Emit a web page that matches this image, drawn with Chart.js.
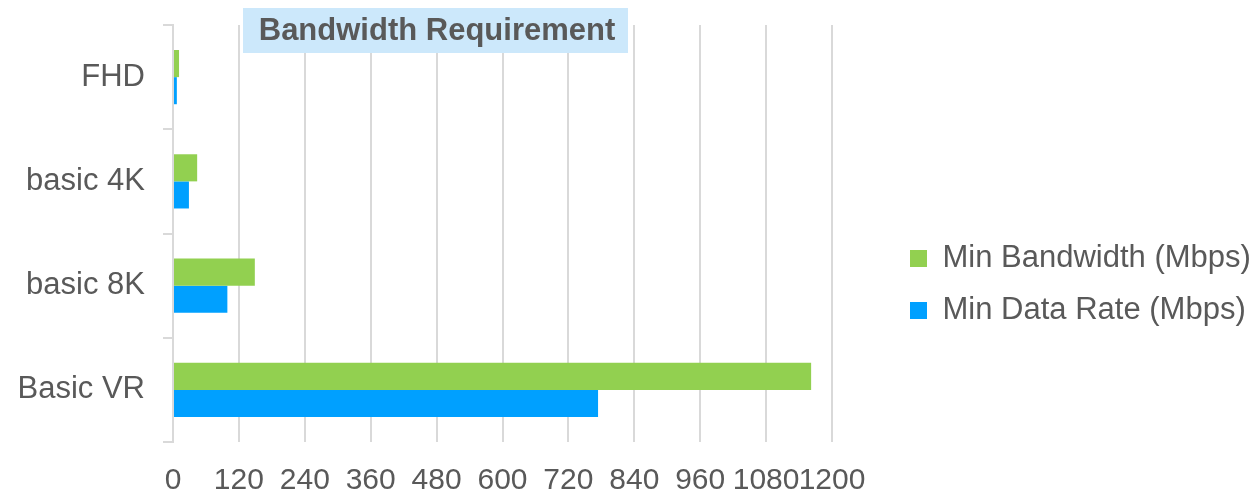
<!DOCTYPE html>
<html><head><meta charset="utf-8">
<script src="https://cdn.jsdelivr.net/npm/chart.js@4.4.1/dist/chart.umd.min.js"></script>
<style>html,body{margin:0;padding:0;background:#fff;}#wrap{position:relative;width:1257px;height:496px;}</style>
</head><body><div id="wrap"><canvas id="c"></canvas></div>
<script>
const categories = ['FHD', 'basic 4K', 'basic 8K', 'Basic VR'];
const minBandwidth = [11, 44, 149, 1162];
const minDataRate = [7, 29, 99, 774];
const seriesNames = ['Min Bandwidth (Mbps)', 'Min Data Rate (Mbps)'];
const xTickValues = [0, 120, 240, 360, 480, 600, 720, 840, 960, 1080, 1200];
const titleText = 'Bandwidth Requirement';

const FAMILY = '"Liberation Sans", Arial, Helvetica, sans-serif';
const TEXT = '#595959';
const GRID = '#d9d9d9';

const boxTitle = {
  id: 'boxTitle',
  afterDraw(chart) {
    const ctx = chart.ctx;
    ctx.save();
    ctx.fillStyle = '#cce8fb';
    ctx.fillRect(243, 8, 385, 45);
    ctx.font = 'bold 31px ' + FAMILY;
    ctx.fillStyle = TEXT;
    ctx.textAlign = 'center';
    ctx.textBaseline = 'middle';
    ctx.fillText(titleText, 437, 31);
    ctx.restore();
  }
};

const legendPlace = {
  id: 'legendPlace',
  beforeLayout(chart) {
    const lg = chart.legend;
    if (lg && !lg._patched) {
      const f = lg.fit;
      lg.fit = function () { f.call(this); this.width = 425; };
      lg._patched = true;
    }
  },
  afterLayout(chart) {
    const lg = chart.legend;
    if (lg) { lg.left = 889; lg.top = 222; }
  }
};

new Chart(document.getElementById('c'), {
  type: 'bar',
  data: {
    labels: categories,
    datasets: [
      { label: seriesNames[0], data: minBandwidth, backgroundColor: '#92d050', borderWidth: 0 },
      { label: seriesNames[1], data: minDataRate, backgroundColor: '#00a0ff', borderWidth: 0 }
    ]
  },
  options: {
    indexAxis: 'y',
    responsive: true,
    maintainAspectRatio: false,
    animation: false,
    devicePixelRatio: 1,
    categoryPercentage: 0.52,
    barPercentage: 1.0,
    layout: { padding: { top: 25, left: 0, right: 0, bottom: 0 } },
    plugins: {
      title: { display: false },
      tooltip: { enabled: false },
      legend: {
        display: true,
        position: 'right',
        align: 'start',
        labels: {
          boxWidth: 17, boxHeight: 17, padding: 21,
          color: TEXT, font: { size: 31, family: FAMILY }
        }
      }
    },
    scales: {
      x: {
        type: 'linear', position: 'bottom', min: 0, max: 1200,
        afterBuildTicks: s => { s.ticks = xTickValues.map(v => ({ value: v })); },
        afterFit: s => { s.height = 54; },
        grid: { color: GRID, lineWidth: 2, drawTicks: false },
        border: { display: false },
        ticks: {
          autoSkip: false, maxRotation: 0, minRotation: 0, padding: 21, color: TEXT,
          font: { size: 30, family: FAMILY },
          callback: v => String(v)
        }
      },
      y: {
        type: 'category',
        afterFit: s => { s.width = 173; s.paddingTop = 0; s.paddingBottom = 0; },
        grid: { color: GRID, lineWidth: 2, drawOnChartArea: false, drawTicks: true, tickLength: 10, offset: true },
        border: { display: true, color: GRID, width: 2 },
        ticks: { padding: 18, color: TEXT, font: { size: 31, family: FAMILY } }
      }
    }
  },
  plugins: [legendPlace, boxTitle]
});
</script></body></html>
